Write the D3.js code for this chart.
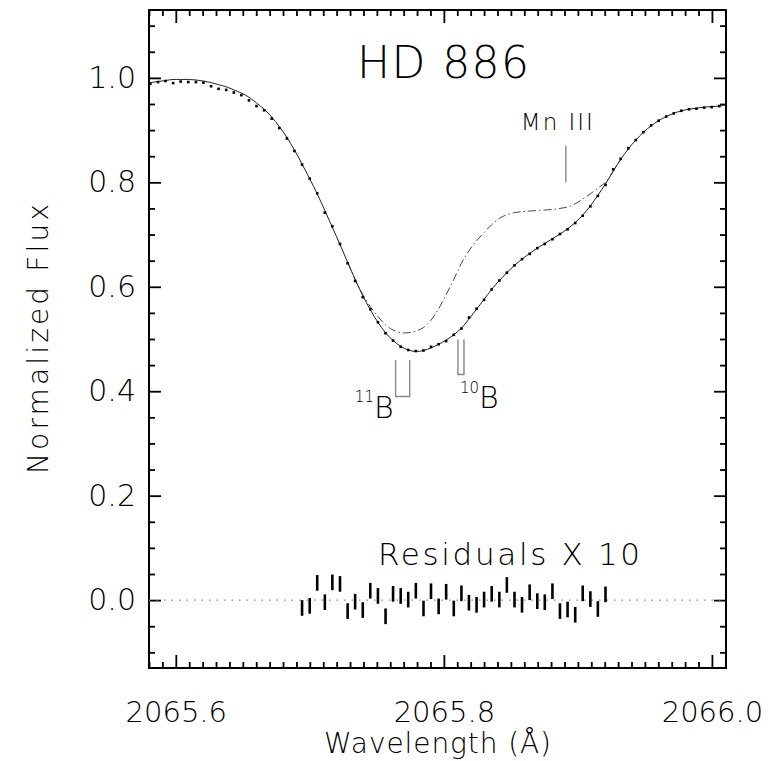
<!DOCTYPE html>
<html>
<head>
<meta charset="utf-8">
<script src="https://cdn.jsdelivr.net/npm/d3@7"></script>
<style>
  body { margin: 0; background: #fff; }
  svg text { font-family: "DejaVu Sans", sans-serif; font-weight: 200; fill: #000; }
</style>
</head>
<body>
<div id="chart"></div>
<script>
// observed spectrum sampling (Å)
const wave = [
  2065.5810, 2065.5867, 2065.5923, 2065.5980, 2065.6036, 2065.6093, 2065.6150, 2065.6206,
  2065.6263, 2065.6319, 2065.6376, 2065.6433, 2065.6489, 2065.6546, 2065.6602, 2065.6659,
  2065.6716, 2065.6772, 2065.6829, 2065.6885, 2065.6942, 2065.6999, 2065.7055, 2065.7112,
  2065.7168, 2065.7225, 2065.7282, 2065.7338, 2065.7395, 2065.7451, 2065.7508, 2065.7565,
  2065.7621, 2065.7678, 2065.7734, 2065.7791, 2065.7848, 2065.7904, 2065.7961, 2065.8017,
  2065.8074, 2065.8131, 2065.8187, 2065.8244, 2065.8300, 2065.8357, 2065.8414, 2065.8470,
  2065.8527, 2065.8583, 2065.8640, 2065.8697, 2065.8753, 2065.8810, 2065.8866, 2065.8923,
  2065.8980, 2065.9036, 2065.9093, 2065.9149, 2065.9206, 2065.9263, 2065.9319, 2065.9376,
  2065.9432, 2065.9489, 2065.9546, 2065.9602, 2065.9659, 2065.9715, 2065.9772, 2065.9829,
  2065.9885, 2065.9942, 2065.9998, 2066.0055
];

// observed normalized flux (dots)
const obsFlux = [
  0.989, 0.992, 0.994, 0.990, 0.993, 0.992, 0.992, 0.991,
  0.984, 0.979, 0.977, 0.972, 0.967, 0.957, 0.946, 0.938,
  0.922, 0.904, 0.884, 0.860, 0.834, 0.807, 0.779, 0.742,
  0.716, 0.682, 0.645, 0.611, 0.580, 0.557, 0.532, 0.511,
  0.497, 0.485, 0.479, 0.477, 0.478, 0.485, 0.490, 0.496,
  0.508, 0.520, 0.541, 0.558, 0.575, 0.595, 0.612, 0.627,
  0.641, 0.653, 0.663, 0.674, 0.682, 0.691, 0.701, 0.710,
  0.722, 0.736, 0.754, 0.774, 0.795, 0.825, 0.845, 0.865,
  0.881, 0.896, 0.909, 0.918, 0.926, 0.932, 0.937, 0.940,
  0.941, 0.943, 0.944, 0.946
];

// synthetic spectrum with boron (solid)
const modelWave = [
  2065.5800, 2065.5810, 2065.5867, 2065.5923, 2065.5980, 2065.6036, 2065.6093, 2065.6150, 2065.6206,
  2065.6263, 2065.6319, 2065.6376, 2065.6433, 2065.6489, 2065.6546, 2065.6602, 2065.6659,
  2065.6716, 2065.6772, 2065.6829, 2065.6885, 2065.6942, 2065.6999, 2065.7055, 2065.7112,
  2065.7168, 2065.7225, 2065.7282, 2065.7338, 2065.7395, 2065.7451, 2065.7508, 2065.7565,
  2065.7621, 2065.7678, 2065.7734, 2065.7791, 2065.7848, 2065.7904, 2065.7961, 2065.8017,
  2065.8074, 2065.8131, 2065.8187, 2065.8244, 2065.8300, 2065.8357, 2065.8414, 2065.8470,
  2065.8527, 2065.8583, 2065.8640, 2065.8697, 2065.8753, 2065.8810, 2065.8866, 2065.8923,
  2065.8980, 2065.9036, 2065.9093, 2065.9149, 2065.9206, 2065.9263, 2065.9319, 2065.9376,
  2065.9432, 2065.9489, 2065.9546, 2065.9602, 2065.9659, 2065.9715, 2065.9772, 2065.9829,
  2065.9885, 2065.9942, 2065.9998, 2066.0055, 2066.0105
];
const modelFlux = [
  0.990, 0.991, 0.993, 0.995, 0.997, 0.997, 0.997, 0.996, 0.994,
  0.991, 0.987, 0.983, 0.977, 0.971, 0.963, 0.952, 0.940,
  0.925, 0.907, 0.886, 0.862, 0.835, 0.807, 0.778, 0.746,
  0.714, 0.681, 0.647, 0.614, 0.583, 0.556, 0.532, 0.512,
  0.497, 0.486, 0.479, 0.476, 0.478, 0.483, 0.490, 0.498,
  0.508, 0.521, 0.538, 0.557, 0.576, 0.595, 0.612, 0.627,
  0.641, 0.653, 0.664, 0.674, 0.683, 0.692, 0.701, 0.711,
  0.723, 0.737, 0.755, 0.775, 0.797, 0.821, 0.844, 0.864,
  0.881, 0.896, 0.908, 0.918, 0.926, 0.932, 0.937, 0.940,
  0.942, 0.944, 0.945, 0.946, 0.948
];

// synthetic spectrum without boron (dash-dot)
const noBoronWave = [
  2065.7282, 2065.7338, 2065.7395, 2065.7451, 2065.7508, 2065.7565, 2065.7621, 2065.7678,
  2065.7734, 2065.7791, 2065.7848, 2065.7904, 2065.7961, 2065.8017, 2065.8074, 2065.8131,
  2065.8187, 2065.8244, 2065.8300, 2065.8357, 2065.8414, 2065.8470, 2065.8527, 2065.8583,
  2065.8640, 2065.8697, 2065.8753, 2065.8810, 2065.8866, 2065.8923, 2065.8980, 2065.9036,
  2065.9093, 2065.9149, 2065.9206, 2065.9263, 2065.9319
];
const noBoronFlux = [
  0.647, 0.614, 0.585, 0.562, 0.543, 0.527, 0.517, 0.512,
  0.512, 0.515, 0.522, 0.536, 0.558, 0.585, 0.614, 0.645,
  0.669, 0.688, 0.704, 0.719, 0.731, 0.738, 0.742, 0.744,
  0.745, 0.746, 0.747, 0.748, 0.750, 0.753, 0.759, 0.768,
  0.778, 0.789, 0.800, 0.821, 0.844
];

// residuals x 10
const residWave = [
  2065.6942, 2065.6999, 2065.7055, 2065.7112, 2065.7168, 2065.7225, 2065.7282, 2065.7338,
  2065.7395, 2065.7451, 2065.7508, 2065.7565, 2065.7621, 2065.7678, 2065.7734, 2065.7791,
  2065.7848, 2065.7904, 2065.7961, 2065.8017, 2065.8074, 2065.8131, 2065.8187, 2065.8244,
  2065.8300, 2065.8357, 2065.8414, 2065.8470, 2065.8527, 2065.8583, 2065.8640, 2065.8697,
  2065.8753, 2065.8810, 2065.8866, 2065.8923, 2065.8980, 2065.9036, 2065.9093, 2065.9149,
  2065.9206
];
const residX10 = [
  -0.015, -0.011, 0.033, -0.004, 0.034, 0.031, -0.021, -0.003,
  -0.019, 0.018, 0.008, -0.031, 0.012, 0.008, 0.001, 0.018,
  -0.016, 0.017, -0.012, 0.016, -0.016, 0.013, -0.005, -0.009,
  0.001, 0.012, 0.001, 0.029, 0.001, -0.009, 0.015, -0.002,
  -0.004, 0.017, -0.021, -0.018, -0.028, 0.013, 0.002, -0.017,
  0.011
];
const residErr = 0.015;

// line identifications
const mnWave = 2065.891;
const mnRange = [0.800, 0.870];
const b11Wave = [2065.764, 2065.7745];
const b11Range = [0.390, 0.460];
const b10Wave = [2065.8105, 2065.815];
const b10Range = [0.432, 0.499];

const xDomain = [2065.58, 2066.0105];
const yDomain = [-0.13, 1.13];
const xMajor = [2065.6, 2065.8, 2066.0];
const yMajor = [0.0, 0.2, 0.4, 0.6, 0.8, 1.0];

const W = 776, H = 761;
const margin = { top: 10, right: 50, bottom: 93, left: 149 };
const width = W - margin.left - margin.right,
  height = H - margin.top - margin.bottom;

const svg = d3.select('#chart').append('svg')
  .attr('width', W)
  .attr('height', H);

const g = svg.append('g')
  .attr('transform', 'translate(' + margin.left + ',' + margin.top + ')');

const x = d3.scaleLinear().domain(xDomain).range([0, width]);
const y = d3.scaleLinear().domain(yDomain).range([height, 0]);

const xMinor = d3.range(2065.58, 2066.011, 0.01).filter(v => Math.abs(v * 5 - Math.round(v * 5)) > 1e-6);
const yMinor = d3.range(-0.1, 1.11, 0.05).filter(v => Math.abs(v * 5 - Math.round(v * 5)) > 1e-6);

// axes (ticks point inward, IDL style)
function styleAxis(sel) {
  sel.select('.domain').remove();
  sel.selectAll('.tick line').attr('stroke', '#000').attr('stroke-width', 1.8);
  sel.selectAll('.tick text').style('font-size', '30px').attr('fill', '#000');
}

g.append('g').attr('transform', 'translate(0,' + height + ')')
  .call(d3.axisBottom(x).tickValues(xMajor).tickSize(-13).tickPadding(33).tickFormat(d3.format('.1f')))
  .call(styleAxis)
  .call(s => s.selectAll('.tick text').style('font-size', '29px'));
g.append('g').attr('transform', 'translate(0,' + height + ')')
  .call(d3.axisBottom(x).tickValues(xMinor).tickSize(-6).tickFormat(''))
  .call(styleAxis);
g.append('g')
  .call(d3.axisTop(x).tickValues(xMajor).tickSize(-13).tickFormat(''))
  .call(styleAxis);
g.append('g')
  .call(d3.axisTop(x).tickValues(xMinor).tickSize(-6).tickFormat(''))
  .call(styleAxis);

g.append('g')
  .call(d3.axisLeft(y).tickValues(yMajor).tickSize(-12).tickPadding(13).tickFormat(d3.format('.1f')))
  .call(styleAxis);
g.append('g')
  .call(d3.axisLeft(y).tickValues(yMinor).tickSize(-6).tickFormat(''))
  .call(styleAxis);
g.append('g').attr('transform', 'translate(' + width + ',0)')
  .call(d3.axisRight(y).tickValues(yMajor).tickSize(-12).tickFormat(''))
  .call(styleAxis);
g.append('g').attr('transform', 'translate(' + width + ',0)')
  .call(d3.axisRight(y).tickValues(yMinor).tickSize(-6).tickFormat(''))
  .call(styleAxis);

g.append('rect')
  .attr('width', width)
  .attr('height', height)
  .attr('fill', 'none')
  .attr('stroke', '#000')
  .attr('stroke-width', 2);

// zero line for residuals
g.append('line')
  .attr('x1', 0).attr('x2', width)
  .attr('y1', y(0)).attr('y2', y(0))
  .attr('stroke', '#888')
  .attr('stroke-width', 1.2)
  .attr('stroke-dasharray', '1.5,6');

const line = d3.line()
  .x(d => x(d[0]))
  .y(d => y(d[1]))
  .curve(d3.curveCatmullRom);

g.append('path')
  .datum(d3.zip(noBoronWave, noBoronFlux))
  .attr('d', line)
  .attr('fill', 'none')
  .attr('stroke', '#444')
  .attr('stroke-width', 1)
  .attr('stroke-dasharray', '8,3,1.5,3');

g.append('path')
  .datum(d3.zip(modelWave, modelFlux))
  .attr('d', line)
  .attr('fill', 'none')
  .attr('stroke', '#222')
  .attr('stroke-width', 1);

g.selectAll('.obs')
  .data(d3.zip(wave, obsFlux))
  .join('rect')
  .attr('class', 'obs')
  .attr('x', d => x(d[0]) - 1.3)
  .attr('y', d => y(d[1]) - 1.3)
  .attr('width', 2.6)
  .attr('height', 2.6)
  .attr('fill', '#000');

g.selectAll('.resid')
  .data(d3.zip(residWave, residX10))
  .join('line')
  .attr('class', 'resid')
  .attr('x1', d => x(d[0]))
  .attr('x2', d => x(d[0]))
  .attr('y1', d => y(d[1] + residErr))
  .attr('y2', d => y(d[1] - residErr))
  .attr('stroke', '#000')
  .attr('stroke-width', 2.6);

// line markers
const markColor = '#888';
g.append('line')
  .attr('x1', x(mnWave)).attr('x2', x(mnWave))
  .attr('y1', y(mnRange[0])).attr('y2', y(mnRange[1]))
  .attr('stroke', markColor).attr('stroke-width', 1.4);

function uMark(waves, range) {
  const pts = [
    [waves[0], range[1]], [waves[0], range[0]],
    [waves[1], range[0]], [waves[1], range[1]]
  ];
  g.append('path')
    .attr('d', d3.line().x(d => x(d[0])).y(d => y(d[1]))(pts))
    .attr('fill', 'none')
    .attr('stroke', markColor)
    .attr('stroke-width', 1.4);
}
uMark(b11Wave, b11Range);
uMark(b10Wave, b10Range);

// labels
g.append('text')
  .attr('x', x(mnWave) - 9)
  .attr('y', y(mnRange[1]) - 16)
  .attr('text-anchor', 'middle')
  .style('font-size', '23px')
  .attr('textLength', 72)
  .text('Mn III');

const t11 = g.append('text')
  .attr('x', x(b11Wave[0]) - 2)
  .attr('y', y(b11Range[0]) + 22)
  .attr('text-anchor', 'end');
t11.append('tspan').attr('dy', -16.6).style('font-size', '15px').text('11');
t11.append('tspan').attr('dy', 16.6).style('font-size', '30px').text('B');

const t10 = g.append('text')
  .attr('x', x(b10Wave[0]) + 2)
  .attr('y', y(b10Range[0]) + 33);
t10.append('tspan').attr('dy', -15).style('font-size', '15px').text('10');
t10.append('tspan').attr('dy', 15).style('font-size', '30px').text('B');

g.append('text')
  .attr('x', 294)
  .attr('y', 68)
  .attr('text-anchor', 'middle')
  .style('font-size', '44px')
  .attr('textLength', 172)
  .text('HD 886');

g.append('text')
  .attr('x', 360)
  .attr('y', 555)
  .attr('text-anchor', 'middle')
  .style('font-size', '31px')
  .attr('textLength', 262)
  .text('Residuals X 10');

svg.append('text')
  .attr('x', margin.left + width / 2)
  .attr('y', 753)
  .attr('text-anchor', 'middle')
  .style('font-size', '28px')
  .attr('textLength', 227)
  .text('Wavelength (Å)');

svg.append('text')
  .attr('transform', 'translate(48,' + (margin.top + height / 2) + ') rotate(-90)')
  .attr('text-anchor', 'middle')
  .style('font-size', '28px')
  .attr('textLength', 270)
  .text('Normalized Flux');
</script>
</body>
</html>
